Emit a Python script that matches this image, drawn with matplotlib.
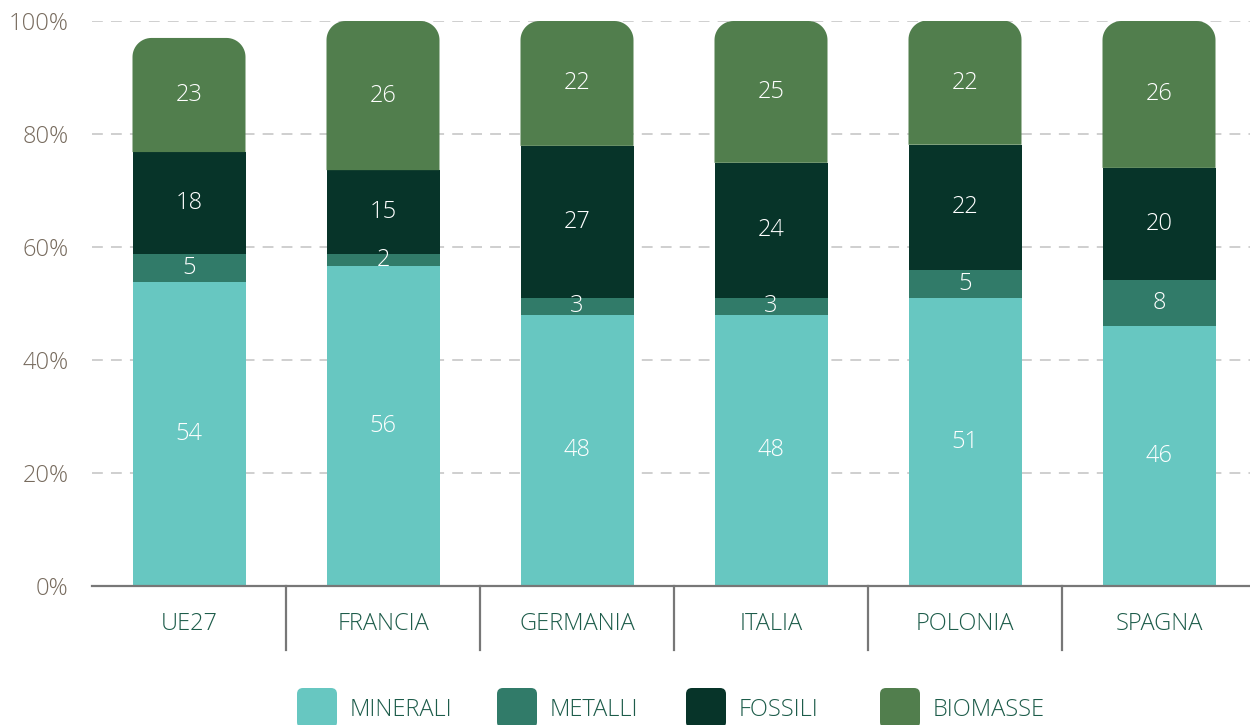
import matplotlib
matplotlib.use("Agg")
import matplotlib.pyplot as plt
from matplotlib.patches import FancyBboxPatch, Polygon
import numpy as np

categories = ["UE27", "FRANCIA", "GERMANIA", "ITALIA", "POLONIA", "SPAGNA"]
series_names = ["MINERALI", "METALLI", "FOSSILI", "BIOMASSE"]
minerali = [53.8, 56.6, 48.0, 48.0, 51.0, 46.0]
metalli = [5.0, 2.1, 3.0, 3.0, 5.0, 8.2]
fossili = [18.0, 14.9, 26.9, 23.9, 22.1, 19.8]
biomasse = [20.2, 26.4, 22.1, 25.1, 22.0, 26.0]
labels_minerali = ["54", "56", "48", "48", "51", "46"]
labels_metalli = ["5", "2", "3", "3", "5", "8"]
labels_fossili = ["18", "15", "27", "24", "22", "20"]
labels_biomasse = ["23", "26", "22", "25", "22", "26"]
yticks = [0, 20, 40, 60, 80, 100]
ytick_labels = ["0%", "20%", "40%", "60%", "80%", "100%"]

colors = ["#67c7c1", "#317b69", "#073429", "#517e4d"]
text_green = "#1d5c4a"
tick_color = "#776b5e"
FONT = "Open Sans"
FW = 300
FS = 17
W, H = 1250, 725

fig = plt.figure(figsize=(W / 100, H / 100), dpi=100)
ax_left, ax_right, ax_top, ax_bottom = 92, 1256, 21, 586
ax = fig.add_axes([ax_left / W, 1 - ax_bottom / H, (ax_right - ax_left) / W, (ax_bottom - ax_top) / H])
ax.set_xlim(-0.5, len(categories) - 0.5)
ax.set_ylim(0, 100)

x = np.arange(len(categories))
bar_w = 113 / 194
series = [minerali, metalli, fossili, biomasse]
labels = [labels_minerali, labels_metalli, labels_fossili, labels_biomasse]

px_per_x = (ax_right - ax_left) / len(categories)
px_per_y = (ax_bottom - ax_top) / 100
radius_px = 19


def rounded_top(xc, y0, y1, w):
    rx = radius_px / px_per_x
    ry = radius_px / px_per_y
    xl, xr = xc - w / 2, xc + w / 2
    t = np.linspace(0, np.pi / 2, 16)
    pts = [(xl, y0)]
    for a in t:
        pts.append((xl + rx - rx * np.cos(a), y1 - ry + ry * np.sin(a)))
    for a in t[::-1]:
        pts.append((xr - rx + rx * np.cos(a), y1 - ry + ry * np.sin(a)))
    pts.append((xr, y0))
    return pts


bottoms = np.zeros(len(categories))
for si, (vals, labs) in enumerate(zip(series, labels)):
    vals = np.array(vals)
    if si < len(series) - 1:
        ax.bar(x, vals, bar_w, bottom=bottoms, color=colors[si], zorder=3, linewidth=0)
    else:
        for i in range(len(categories)):
            p = Polygon(rounded_top(x[i], bottoms[i], bottoms[i] + vals[i], bar_w), closed=True,
                        facecolor=colors[si], edgecolor="none", zorder=3)
            ax.add_patch(p)
    for i in range(len(categories)):
        yc = bottoms[i] + vals[i] / 2
        ax.text(x[i], yc, labs[i], ha="center", va="center", color="white",
                fontsize=FS, family=FONT, fontweight=FW, zorder=5)
    bottoms = bottoms + vals

ax.set_yticks(yticks)
ax.set_yticklabels(ytick_labels)
ax.tick_params(axis="y", length=0, pad=17, labelsize=FS, labelcolor=tick_color)
for t in ax.get_yticklabels():
    t.set_fontfamily(FONT)
    t.set_fontweight(FW)
ax.set_xticks([])
ax.grid(axis="y", color="#cccccc", linestyle=(0, (6, 4.5)), linewidth=1.3, zorder=0)
for s in ["top", "right", "left"]:
    ax.spines[s].set_visible(False)
ax.spines["bottom"].set_color("#777777")
ax.spines["bottom"].set_linewidth(1.6)
ax.spines["bottom"].set_zorder(6)

sep_len = 64 / px_per_y
for b in np.arange(0.5, len(categories) - 0.5, 1):
    ax.plot([b, b], [0, -sep_len], color="#777777", linewidth=1.6, clip_on=False, zorder=6)

for i, c in enumerate(categories):
    ax.text(x[i], -38 / px_per_y, c, ha="center", va="center", color=text_green,
            fontsize=FS, family=FONT, fontweight=FW)

# legend
leg_x = [297, 497, 686, 880]
leg_y = 688
box = 40
for name, col, lx in zip(series_names, colors, leg_x):
    p = FancyBboxPatch((lx / W, 1 - (leg_y + box) / H), box / W, box / H,
                       boxstyle=f"round,pad=0,rounding_size={6 / W}",
                       mutation_aspect=W / H, transform=fig.transFigure,
                       facecolor=col, edgecolor="none")
    fig.patches.append(p)
    fig.text((lx + box + 13) / W, 1 - 710 / H, name, ha="left", va="center",
             color=text_green, fontsize=FS, family=FONT, fontweight=FW)

fig.savefig("out.png", dpi=100)
